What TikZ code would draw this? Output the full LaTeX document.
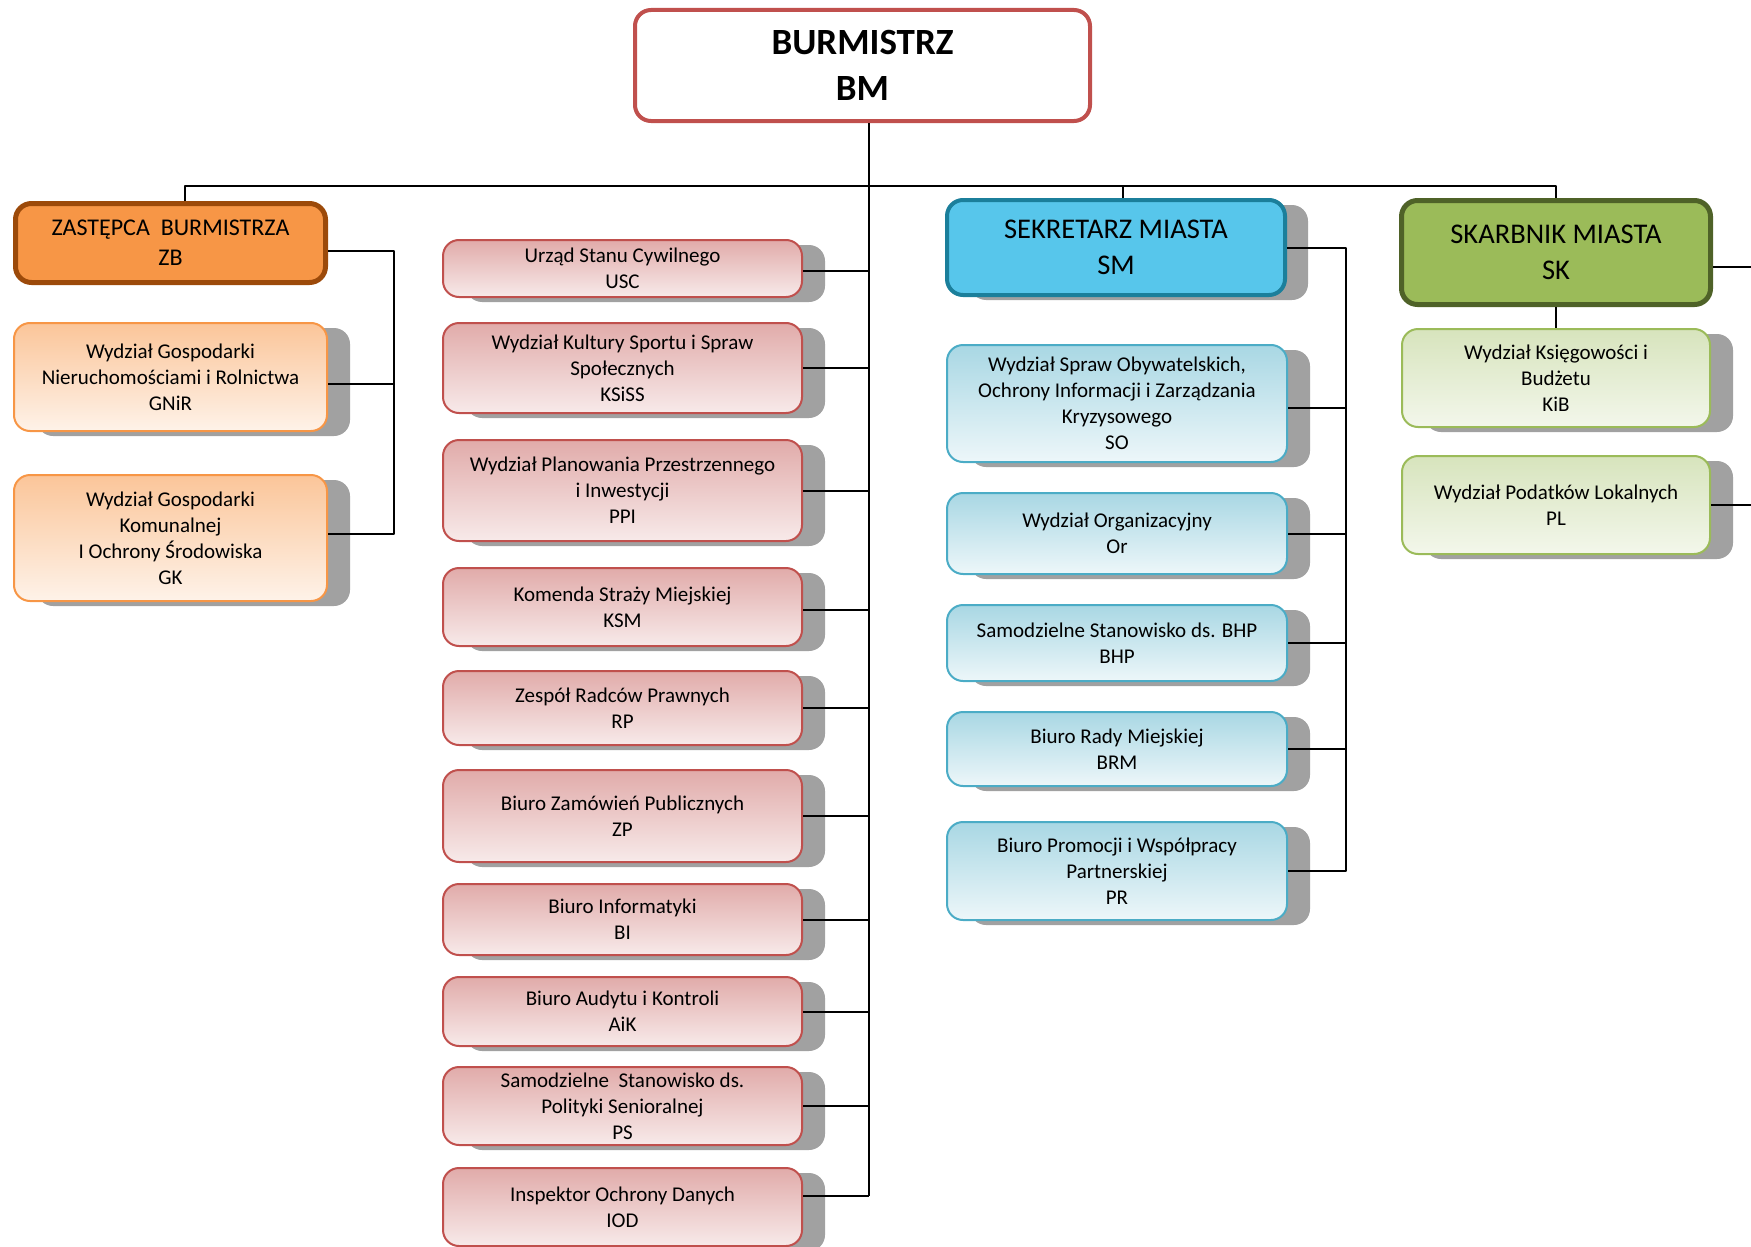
\documentclass[tikz,border=0pt]{standalone}
\usepackage{fontspec}
\setmainfont{Carlito}
\usetikzlibrary{shadows}
\definecolor{bmred}{HTML}{C0504D}
\definecolor{zbfill}{HTML}{F79646}
\definecolor{zbline}{HTML}{9C4A0A}
\definecolor{smfill}{HTML}{57C6EB}
\definecolor{smline}{HTML}{1B7F9B}
\definecolor{skfill}{HTML}{9BBB59}
\definecolor{skline}{HTML}{4F6228}
\definecolor{smchild}{HTML}{4BACC6}
\tikzset{t/.style={font=\fontsize{21}{26}\selectfont}}
\tikzset{h/.style={font=\fontsize{28.5}{35.5}\selectfont}}
\tikzset{lin/.style={line width=2pt}}
\tikzset{box/.style={rounded corners=16pt, align=center, inner sep=0pt, line width=2pt}}
\tikzset{cien/.style={drop shadow={shadow xshift=23pt, shadow yshift=-5pt, fill=black!37, opacity=1}}}
\tikzset{wzast/.style={box, t, cien, draw=zbfill, top color=zbfill!55, bottom color=zbfill!12, minimum width=313pt}}
\tikzset{wbm/.style={box, t, cien, draw=bmred, top color=bmred!48, bottom color=bmred!12, minimum width=359pt}}
\tikzset{wsekr/.style={box, t, cien, draw=smchild, top color=smchild!48, bottom color=smchild!10, minimum width=340pt}}
\tikzset{wskarb/.style={box, t, cien, draw=skfill, top color=skfill!40, bottom color=skfill!12, minimum width=308pt}}

\begin{document}
\begin{tikzpicture}[x=1pt,y=-1pt,line join=round]
  \useasboundingbox (0,0) rectangle (1751,1247);
  % kierownictwo
  \node[box, line width=4pt, draw=bmred, fill=white, minimum width=455pt, minimum height=111pt,
        font=\fontsize{37}{46}\selectfont\bfseries] (BM) at (862.5,65.5) {BURMISTRZ\\BM};
  \node[box, line width=5pt, draw=zbline, fill=zbfill, minimum width=310pt, minimum height=79pt,
        font=\fontsize{24}{30}\selectfont] (ZB) at (170.5,243) {ZASTĘPCA~ BURMISTRZA\\ZB};
  \node[box, h, cien, line width=4pt, draw=smline, fill=smfill, minimum width=338pt, minimum height=95pt] (SM) at (1116,247.5) {SEKRETARZ MIASTA\\SM};
  \node[box, h, line width=5pt, draw=skline, fill=skfill, minimum width=309pt, minimum height=104pt] (SK) at (1556,252.5) {SKARBNIK MIASTA\\SK};
  % zastepca
  \node[wzast, minimum height=108pt] (GNiR) at (170.5,377) {Wydział Gospodarki\\Nieruchomościami i Rolnictwa\\GNiR};
  \node[wzast, minimum height=126pt] (GK) at (170.5,538) {Wydział Gospodarki\\Komunalnej\\I Ochrony Środowiska\\GK};
  % burmistrz
  \node[wbm, minimum height=57pt] (USC) at (622.5,268.5) {Urząd Stanu Cywilnego\\USC};
  \node[wbm, minimum height=90pt] (KSiSS) at (622.5,368) {Wydział Kultury Sportu i Spraw\\Społecznych\\KSiSS};
  \node[wbm, minimum height=101pt] (PPI) at (622.5,490.5) {Wydział Planowania Przestrzennego\\i Inwestycji\\PPI};
  \node[wbm, minimum height=78pt] (KSM) at (622.5,607) {Komenda Straży Miejskiej\\KSM};
  \node[wbm, minimum height=74pt] (RP) at (622.5,708) {Zespół Radców Prawnych\\RP};
  \node[wbm, minimum height=92pt] (ZP) at (622.5,816) {Biuro Zamówień Publicznych\\ZP};
  \node[wbm, minimum height=71pt] (BI) at (622.5,919.5) {Biuro Informatyki\\BI};
  \node[wbm, minimum height=69pt] (AiK) at (622.5,1011.5) {Biuro Audytu i Kontroli\\AiK};
  \node[wbm, minimum height=78pt] (PS) at (622.5,1106) {Samodzielne~ Stanowisko ds.\\Polityki Senioralnej\\PS};
  \node[wbm, minimum height=78pt] (IOD) at (622.5,1207) {Inspektor Ochrony Danych\\IOD};
  % sekretarz
  \node[wsekr, minimum height=117pt] (SO) at (1117,403.5) {Wydział Spraw Obywatelskich,\\Ochrony Informacji i Zarządzania\\Kryzysowego\\SO};
  \node[wsekr, minimum height=81pt] (Or) at (1117,533.5) {Wydział Organizacyjny\\Or};
  \node[wsekr, minimum height=76pt] (BHP) at (1117,643) {Samodzielne Stanowisko ds. BHP\\BHP};
  \node[wsekr, minimum height=74pt] (BRM) at (1117,749) {Biuro Rady Miejskiej\\BRM};
  \node[wsekr, minimum height=98pt] (PR) at (1117,871) {Biuro Promocji i Współpracy\\Partnerskiej\\PR};
  % skarbnik
  \node[wskarb, minimum height=98pt] (KiB) at (1556,378) {Wydział Księgowości i\\Budżetu\\KiB};
  \node[wskarb, minimum height=98pt] (PL) at (1556,505) {Wydział Podatków Lokalnych\\PL};
  % polaczenia
  \coordinate (zbx) at (185,186);
  \coordinate (smx) at (1123,186);
  \coordinate (tk) at (869,0);
  \coordinate (zx) at (394,0);
  \coordinate (sx) at (1346,0);
  \coordinate (skw) at (1751,267);
  \coordinate (plw) at (1751,506);
  \draw[lin] (ZB.north -| zbx) -- (zbx) -- (zbx -| SK.north) -- (SK.north);
  \draw[lin] (SM.north -| smx) -- (smx);
  \draw[lin] (BM.south -| tk) -- ([yshift=11pt]IOD.east -| tk);
  \draw[lin] ([yshift=-8pt]ZB.east) -- ([yshift=-8pt]ZB.east -| zx) -- ([yshift=4pt]GK.east -| zx) -- ([yshift=4pt]GK.east);
  \draw[lin] ([yshift=-7pt]GNiR.east) -- ([yshift=-7pt]GNiR.east -| zx);
  \draw[lin] ([yshift=-2pt]USC.east) -- ([yshift=-2pt]USC.east -| tk);
  \draw[lin] (KSiSS.east) -- (KSiSS.east -| tk);
  \draw[lin] (PPI.east) -- (PPI.east -| tk);
  \draw[lin] ([yshift=-3pt]KSM.east) -- ([yshift=-3pt]KSM.east -| tk);
  \draw[lin] (RP.east) -- (RP.east -| tk);
  \draw[lin] (ZP.east) -- (ZP.east -| tk);
  \draw[lin] (BI.east) -- (BI.east -| tk);
  \draw[lin] (AiK.east) -- (AiK.east -| tk);
  \draw[lin] (PS.east) -- (PS.east -| tk);
  \draw[lin] ([yshift=11pt]IOD.east) -- ([yshift=11pt]IOD.east -| tk);
  \draw[lin] (SM.east) -- (SM.east -| sx) -- (sx |- PR.east) -- (PR.east);
  \draw[lin] ([yshift=-4pt]SO.east) -- ([yshift=-4pt]SO.east -| sx);
  \draw[lin] (Or.east) -- (Or.east -| sx);
  \draw[lin] (BHP.east) -- (BHP.east -| sx);
  \draw[lin] (BRM.east) -- (BRM.east -| sx);
  \draw[lin] (SK.south) -- (KiB.north);
  \draw[lin] (SK.east |- skw) -- (skw);
  \draw[lin] (PL.east) -- (PL.east -| plw);
\end{tikzpicture}
\end{document}
